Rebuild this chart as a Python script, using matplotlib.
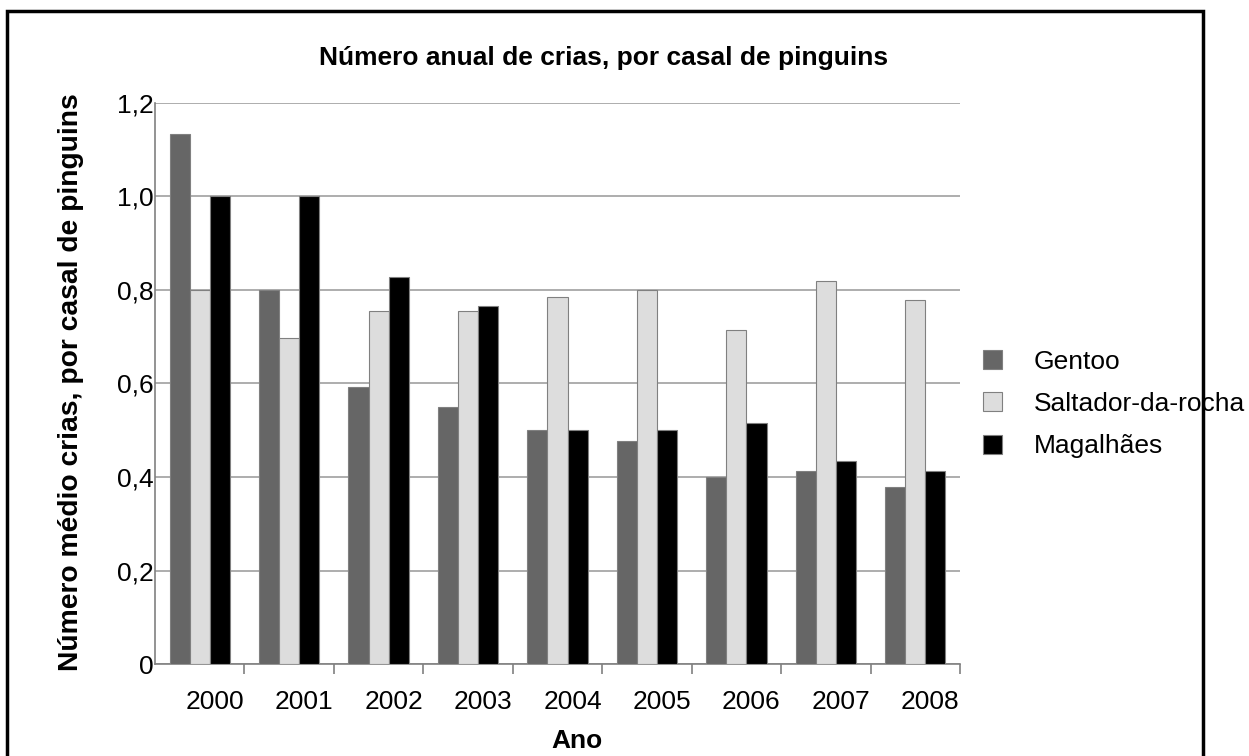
import matplotlib.pyplot as plt
import matplotlib.transforms as mtransforms
from matplotlib.patches import Rectangle
import numpy as np

plt.rcParams['font.family'] = ['Liberation Sans', 'DejaVu Sans']

anos = ['2000', '2001', '2002', '2003', '2004', '2005', '2006', '2007', '2008']
gentoo = [1.133, 0.80, 0.592, 0.55, 0.50, 0.478, 0.40, 0.413, 0.378]
saltador = [0.80, 0.697, 0.756, 0.756, 0.784, 0.80, 0.714, 0.82, 0.779]
magalhaes = [1.0, 1.0, 0.828, 0.766, 0.50, 0.50, 0.515, 0.435, 0.413]

series = [('Gentoo', gentoo, '#666666'),
          ('Saltador-da-rocha', saltador, '#dddddd'),
          ('Magalhães', magalhaes, '#000000')]

fs = 19

fig = plt.figure(figsize=(12.49, 7.56), dpi=100)
ax = fig.add_axes([155/1249, 1-664/756, (960-155)/1249, (664-103)/756])

x = np.arange(len(anos))
w = 0.225
for i, (nome, vals, cor) in enumerate(series):
    ax.bar(x + (i-1)*w, vals, width=w, color=cor, edgecolor='#808080',
           linewidth=0.8, label=nome, zorder=3)

ax.set_xlim(-0.5, len(anos)-0.5)
ax.set_ylim(0, 1.2)
ax.set_yticks(np.arange(0, 1.21, 0.2))
ax.set_yticklabels(['0', '0,2', '0,4', '0,6', '0,8', '1,0', '1,2'], fontsize=fs)
ax.yaxis.grid(True, color='#a0a0a0', linewidth=1.2, zorder=0)
ax.tick_params(axis='y', length=0, pad=1)

# ticks at category boundaries, labels centered (shifted slightly right)
ax.set_xticks(np.arange(0.5, len(anos)-0.5+0.01, 1.0))
ax.set_xticklabels([])
ax.tick_params(axis='x', length=7, color='#808080', width=1.2)
ax.set_xticks(x, minor=True)
ax.set_xticklabels(anos, minor=True, fontsize=fs)
ax.tick_params(axis='x', which='minor', length=0, pad=19)
offset = mtransforms.ScaledTranslation(15/100, 0, fig.dpi_scale_trans)
for lbl in ax.get_xticklabels(minor=True):
    lbl.set_transform(lbl.get_transform() + offset)

for s in ['top', 'right']:
    ax.spines[s].set_visible(False)
ax.spines['left'].set_color('#808080')
ax.spines['bottom'].set_color('#808080')
ax.spines['left'].set_linewidth(1.2)
ax.spines['bottom'].set_linewidth(1.2)

fig.text(604/1249, 1-58/756, 'Número anual de crias, por casal de pinguins',
         ha='center', va='center', fontsize=fs, fontweight='bold')
fig.text(71/1249, 1-382/756, 'Número médio crias, por casal de pinguins',
         ha='center', va='center', rotation=90, fontsize=20.3, fontweight='bold')
fig.text(577/1249, 1-741/756, 'Ano', ha='center', va='center',
         fontsize=fs, fontweight='bold')

leg = fig.legend(loc='center left', bbox_to_anchor=(983/1249, 1-404/756),
                 frameon=False, fontsize=fs, handlelength=0.72, handleheight=0.72,
                 labelspacing=0.7, handletextpad=1.2, borderpad=0,
                 borderaxespad=0)

fig.patches.append(Rectangle((7/1249, -0.05), (1203-7)/1249, 1.05-11/756,
                             transform=fig.transFigure, fill=False,
                             edgecolor='black', linewidth=2.5, zorder=10))

fig.savefig('out.png', dpi=100)
